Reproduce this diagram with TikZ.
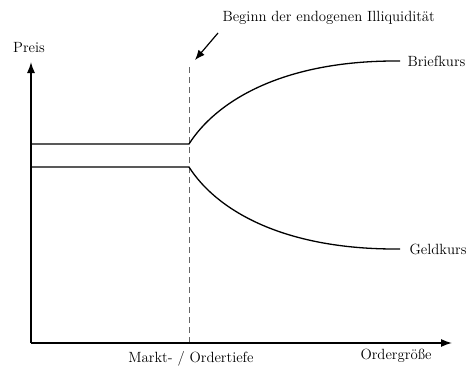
\documentclass[tikz,border=0pt]{standalone}
\usepackage{xcolor}
\usetikzlibrary{arrows.meta}

\begin{document}
\begin{tikzpicture}[x=1pt,y=1pt,
    axis/.style={line width=1.4pt,-{Latex[length=11pt,width=8pt]}},
    kurs/.style={line width=1.3pt},
    marke/.style={dashed,dash pattern=on 6pt off 4pt,gray!80!black,line width=0.7pt},
    beschr/.style={font=\fontsize{14.8}{17}\selectfont}]
    \useasboundingbox (0,0) rectangle (468,365);
    \begin{scope}
      \coordinate (O) at (31,22);
      \coordinate (ytop) at (31,303);
      \coordinate (xend) at (452,22);
      \coordinate (tiefe) at (189,22);
      \coordinate (tiefeoben) at (189,299);
      \coordinate (brief0) at (31,221);
      \coordinate (brief1) at (189,221);
      \coordinate (geld0) at (31,198);
      \coordinate (geld1) at (189,198);
      \coordinate (brief2) at (400,304);
      \coordinate (geld2) at (400,116);

      \draw [marke] (tiefe) -- (tiefeoben);

      \draw [axis] (O) -- (ytop);
      \draw [axis] (O) -- (xend);

      \draw [kurs] (brief0) -- (brief1) .. controls (215,262) and (280,305) .. (brief2);
      \draw [kurs] (geld0) -- (geld1) .. controls (215,157) and (280,115) .. (geld2);

      \node [beschr] (preis) at (29,317) {Preis};
      \node [beschr,anchor=west] (briefkurs) at (404,304) {Briefkurs};
      \node [beschr,anchor=west] (geldkurs) at (406,116) {Geldkurs};
      \node [beschr] (markt) at (191,6) {Markt- / Ordertiefe};
      \node [beschr] (ordergr) at (396,9) {Ordergröße};
      \node [beschr,anchor=west] (beginn) at (219,347) {Beginn der endogenen Illiquidität};

      \coordinate (pfeilstart) at (218,332);
      \coordinate (pfeilziel) at (195,305);
      \draw [line width=1.2pt,-{Latex[length=10pt,width=8pt]}] (pfeilstart) -- (pfeilziel);
    \end{scope}
  \end{tikzpicture}
\end{document}
